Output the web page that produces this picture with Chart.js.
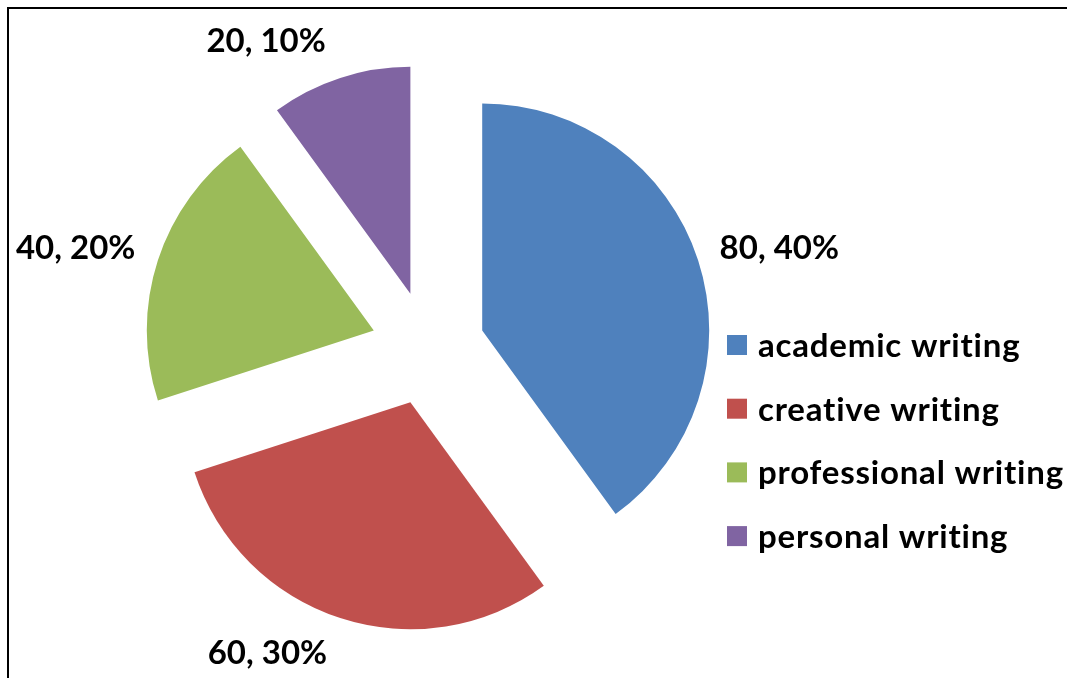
<!DOCTYPE html>
<html>
<head>
<meta charset="utf-8">
<title>Types of writing</title>
<script src="https://cdn.jsdelivr.net/npm/chart.js@4.4.1/dist/chart.umd.min.js"></script>
<style>
  html, body { margin: 0; padding: 0; background: #fff; }
  canvas { display: block; }
</style>
</head>
<body>
<canvas id="chart" width="1067" height="678"></canvas>
<script>
const categories = ['academic writing', 'creative writing', 'professional writing', 'personal writing'];
const values = [80, 60, 40, 20];
const colors = ['#4F81BD', '#C0504D', '#9BBB59', '#8064A2'];

const pieRadius = 227;
const explodeGap = 57;        // distance each slice is pulled out
const labelShift = [2.25, 9.7, -2.3, -9.9];   // degrees off the slice middle
const labelGap = [138, 118.5, 139, 119];       // beyond the pie radius
const textFont = 'bold 33px Lato';

const total = values.reduce((a, b) => a + b, 0);

// Chart.js shifts an arc by offset/4, grows its radius by offset/4*fix
// and trims its sweep a little; undo the last two
const sweepFix = (circ) => 1 - Math.sin(Math.min(Math.PI, circ));

const pieExtras = {
  id: 'pieExtras',
  afterDatasetUpdate(chart) {
    chart.getDatasetMeta(0).data.forEach((arc) => {
      const grow = (arc.options.offset || 0) / 4 * sweepFix(arc.circumference);
      arc.outerRadius = pieRadius - grow;
      const trim = grow / (2 * Math.PI * pieRadius);
      arc.startAngle -= trim;
      arc.endAngle += trim;
    });
  },
  afterDraw(chart) {
    const ctx = chart.ctx;
    ctx.save();

    // frame lines (top and left only)
    ctx.fillStyle = '#000';
    ctx.fillRect(7, 7, 1060, 2);
    ctx.fillRect(7, 7, 2, 671);

    // data labels
    ctx.font = textFont;
    ctx.textAlign = 'center';
    ctx.textBaseline = 'alphabetic';
    chart.getDatasetMeta(0).data.forEach((arc, i) => {
      const mid = (arc.startAngle + arc.endAngle) / 2 + labelShift[i] * Math.PI / 180;
      const d = pieRadius + labelGap[i];
      const x = arc.x + Math.cos(mid) * d;
      const y = arc.y + Math.sin(mid) * d;
      const pct = Math.round(values[i] / total * 100);
      ctx.fillText(values[i] + ', ' + pct + '%', x, y + 10);
    });

    // legend (letter spacing also keeps the "ti" ligature out)
    ctx.textAlign = 'left';
    ctx.letterSpacing = '0.8px';
    chart.data.labels.forEach((label, i) => {
      const top = 335 + i * 63.7;
      ctx.fillStyle = chart.data.datasets[0].backgroundColor[i];
      ctx.fillRect(727, top, 20, 20);
      ctx.fillStyle = '#000';
      ctx.fillText(label, 758, top + 22);
    });

    ctx.restore();
  }
};

function makeChart() {
  new Chart(document.getElementById('chart'), {
    type: 'pie',
    data: {
      labels: categories,
      datasets: [{
        data: values,
        backgroundColor: colors,
        borderWidth: 0,
        offset: 4 * explodeGap
      }]
    },
    options: {
      responsive: false,
      animation: false,
      events: [],
      radius: pieRadius,
      layout: { padding: { left: 0, right: 211, top: 18, bottom: 0 } },
      plugins: {
        legend: { display: false },
        tooltip: { enabled: false }
      }
    },
    plugins: [pieExtras]
  });
}

document.fonts.load(textFont).then(makeChart, makeChart);
</script>
</body>
</html>
